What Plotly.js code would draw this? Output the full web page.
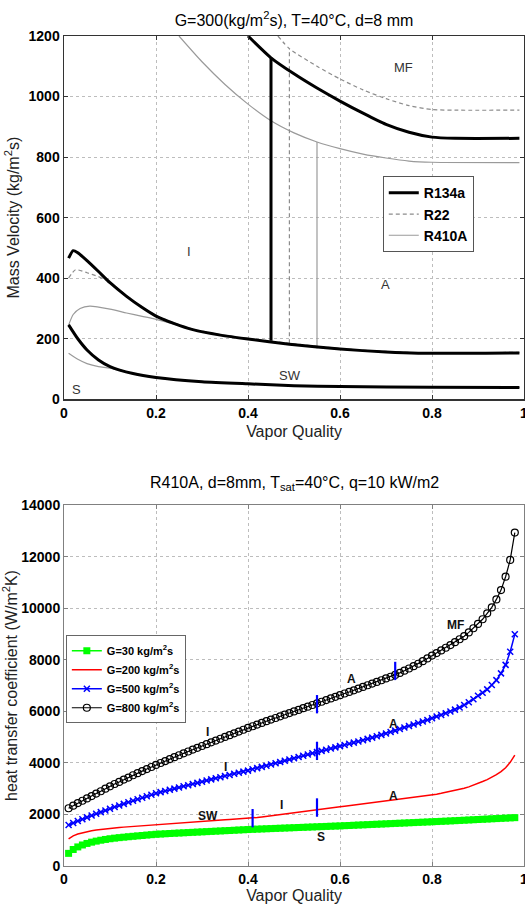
<!DOCTYPE html>
<html>
<head>
<meta charset="utf-8">
<script src="https://cdn.plot.ly/plotly-3.0.1.min.js"></script>
<style>html,body{margin:0;padding:0;background:#fff;}#chart{width:525px;height:904px;}</style>
</head>
<body>
<div id="chart"></div>
<script>
// ---------- Top chart: flow pattern map (G=300, T=40°C, d=8 mm) ----------
const r134a_MF_x = [0.40,0.45,0.50,0.55,0.60,0.65,0.70,0.75,0.80,0.85,0.99];
const r134a_MF_G = [1200,1128,1075,1028,985,945,908,882,866,862,862];
const r134a_vert_x = [0.45,0.45];
const r134a_vert_G = [193,1128];
const r134a_IA_x = [0.01,0.02,0.03,0.05,0.075,0.1,0.136,0.17,0.2,0.24,0.28,0.34,0.4,0.49,0.6,0.7,0.77,0.99];
const r134a_IA_G = [466,491,484,458,422,385,340,303,275,250,230,212,199,182,166,156,152,153];
const r134a_SW_x = [0.01,0.03,0.05,0.075,0.1,0.15,0.2,0.3,0.4,0.5,0.6,0.8,0.99];
const r134a_SW_G = [246,200,163,130,108,85,72,58,51,45,42,40,39];

const r22_MF_x = [0.465,0.49,0.55,0.60,0.65,0.70,0.75,0.80,0.85,0.99];
const r22_MF_G = [1200,1158,1100,1058,1022,993,970,957,955,955];
const r22_vert_x = [0.49,0.49];
const r22_vert_G = [185,1158];
const r22_IA_x = [0.01,0.025,0.05,0.075,0.1,0.136,0.17,0.2,0.24,0.28,0.34,0.4,0.49,0.6,0.7,0.77,0.99];
const r22_IA_G = [400,428,418,405,387,342,305,277,252,232,214,201,185,168,158,154,155];
const r22_SW_x = [0.01,0.03,0.05,0.075,0.1,0.15,0.2,0.3,0.4,0.5,0.6,0.8,0.99];
const r22_SW_G = [246,200,163,130,108,85,72,58,51,45,42,40,39];

const r410a_MF_x = [0.25,0.30,0.35,0.40,0.45,0.50,0.55,0.60,0.65,0.70,0.75,0.80,0.99];
const r410a_MF_G = [1200,1115,1040,975,920,880,850,828,810,797,787,783,782];
const r410a_vert_x = [0.55,0.55];
const r410a_vert_G = [168,850];
const r410a_IA_x = [0.01,0.02,0.035,0.056,0.1,0.136,0.17,0.2,0.24,0.28,0.34,0.4,0.49,0.6,0.7,0.77,0.99];
const r410a_IA_G = [245,280,300,308,298,285,274,264,248,230,212,199,182,166,156,152,153];
const r410a_SW_x = [0.01,0.03,0.05,0.075,0.1,0.15,0.2,0.3,0.4,0.5,0.6,0.8,0.99];
const r410a_SW_G = [152,132,118,108,103,84,71,58,51,45,42,40,39];

const refrigerants = ["R134a","R22","R410A"];
const top_xticks = [0,0.2,0.4,0.6,0.8,1];
const top_yticks = [0,200,400,600,800,1000,1200];

// ---------- Bottom chart: heat transfer coefficient, R410A ----------
const x_quality = [0.01,0.02,0.03,0.04,0.05,0.06,0.07,0.08,0.09,0.10,
  0.11,0.12,0.13,0.14,0.15,0.16,0.17,0.18,0.19,0.20,
  0.21,0.22,0.23,0.24,0.25,0.26,0.27,0.28,0.29,0.30,
  0.31,0.32,0.33,0.34,0.35,0.36,0.37,0.38,0.39,0.40,
  0.41,0.42,0.43,0.44,0.45,0.46,0.47,0.48,0.49,0.50,
  0.51,0.52,0.53,0.54,0.55,0.56,0.57,0.58,0.59,0.60,
  0.61,0.62,0.63,0.64,0.65,0.66,0.67,0.68,0.69,0.70,
  0.71,0.72,0.73,0.74,0.75,0.76,0.77,0.78,0.79,0.80,
  0.81,0.82,0.83,0.84,0.85,0.86,0.87,0.88,0.89,0.90,
  0.91,0.92,0.93,0.94,0.95,0.96,0.97,0.98];
const h_G30 = [490,640,740,815,875,925,965,1000,1030,1057,
  1080,1100,1118,1135,1152,1168,1184,1200,1215,1230,
  1240,1250,1260,1270,1279,1288,1297,1306,1315,1324,
  1333,1342,1351,1360,1369,1378,1387,1396,1405,1414,
  1422,1430,1437,1444,1451,1458,1465,1472,1479,1486,
  1493,1500,1507,1514,1521,1528,1535,1542,1549,1556,
  1564,1572,1580,1588,1596,1604,1612,1620,1628,1636,
  1644,1652,1660,1668,1676,1684,1692,1700,1708,1716,
  1724,1732,1740,1749,1758,1767,1776,1785,1794,1803,
  1812,1821,1830,1839,1848,1857,1866,1875];
const h_G200 = [1050,1170,1240,1290,1330,1365,1395,1420,1440,1460,
  1477,1493,1508,1522,1535,1548,1560,1572,1583,1595,
  1610,1625,1640,1655,1670,1685,1700,1715,1730,1745,
  1755,1765,1775,1785,1795,1805,1815,1825,1838,1850,
  1862,1885,1905,1930,1955,1980,2005,2030,2055,2080,
  2100,2120,2140,2158,2175,2200,2225,2250,2275,2300,
  2322,2344,2366,2388,2410,2432,2454,2476,2498,2520,
  2540,2560,2583,2606,2629,2652,2675,2700,2726,2753,
  2785,2818,2852,2888,2926,2968,3015,3068,3130,3207,
  3275,3350,3440,3540,3660,3810,4020,4300];
const h_G500 = [1590,1670,1745,1815,1885,1955,2025,2090,2155,2220,
  2285,2345,2410,2470,2530,2590,2650,2705,2765,2820,
  2865,2910,2955,3000,3045,3090,3135,3180,3225,3270,
  3315,3360,3400,3445,3490,3530,3575,3615,3660,3700,
  3750,3795,3845,3890,3940,3985,4035,4080,4130,4180,
  4225,4275,4325,4370,4420,4465,4510,4555,4600,4650,
  4695,4740,4785,4830,4880,4930,4980,5035,5085,5140,
  5195,5250,5310,5370,5430,5490,5545,5605,5665,5730,
  5795,5860,5925,5990,6065,6150,6245,6350,6470,6600,
  6720,6850,7020,7210,7470,7800,8310,8985];
const h_G800 = [2240,2340,2440,2530,2620,2710,2810,2900,3000,3090,
  3180,3260,3350,3430,3520,3600,3680,3760,3840,3920,
  3995,4070,4145,4220,4295,4370,4440,4515,4585,4655,
  4725,4795,4865,4935,5005,5075,5145,5215,5285,5355,
  5420,5485,5550,5615,5680,5740,5805,5870,5930,5995,
  6055,6120,6180,6245,6310,6370,6435,6500,6560,6625,
  6690,6750,6815,6880,6945,7010,7075,7140,7205,7275,
  7340,7410,7490,7575,7660,7750,7845,7945,8050,8160,
  8260,8360,8465,8570,8680,8795,8915,9060,9220,9390,
  9570,9800,10030,10340,10700,11220,11870,12930];
const series_names = ["G=30 kg/m<sup>2</sup>s","G=200 kg/m<sup>2</sup>s","G=500 kg/m<sup>2</sup>s","G=800 kg/m<sup>2</sup>s"];
const bot_yticks = [0,2000,4000,6000,8000,10000,12000,14000];
// flow-pattern transition marks (blue ticks)
const trans_x  = [0.55,0.72,0.55,0.41,0.55];
const trans_lo = [5920,7210,4110,1500,1910];
const trans_hi = [6630,7920,4820,2210,2625];

// ---------- build ----------
function joinSegs(segs){
  const xs=[], ys=[];
  segs.forEach((s,i)=>{ if(i>0){xs.push(null);ys.push(null);} xs.push(...s[0]); ys.push(...s[1]); });
  return [xs,ys];
}
const FONT = "Liberation Sans, Arial, Helvetica, sans-serif";
const bold = v => "<b>"+v+"</b>";
const traces = [];
const r134a = joinSegs([[r134a_MF_x,r134a_MF_G],[r134a_vert_x,r134a_vert_G],[r134a_IA_x,r134a_IA_G],[r134a_SW_x,r134a_SW_G]]);
const r22 = joinSegs([[r22_MF_x,r22_MF_G],[r22_vert_x,r22_vert_G],[r22_IA_x,r22_IA_G],[r22_SW_x,r22_SW_G]]);
const r410a = joinSegs([[r410a_MF_x,r410a_MF_G],[r410a_vert_x,r410a_vert_G],[r410a_IA_x,r410a_IA_G],[r410a_SW_x,r410a_SW_G]]);
const sp = {shape:'spline',smoothing:0.6};
traces.push({x:r410a[0],y:r410a[1],name:refrigerants[2],mode:'lines',line:Object.assign({color:'#9a9a9a',width:1.2},sp),xaxis:'x',yaxis:'y',legend:'legend',legendrank:3,connectgaps:false});
traces.push({x:r22[0],y:r22[1],name:refrigerants[1],mode:'lines',line:Object.assign({color:'#8c8c8c',width:1.2,dash:'4px,3px'},sp),xaxis:'x',yaxis:'y',legend:'legend',legendrank:2,connectgaps:false});
traces.push({x:r134a[0],y:r134a[1],name:refrigerants[0],mode:'lines',line:Object.assign({color:'#000',width:3},sp),xaxis:'x',yaxis:'y',legend:'legend',legendrank:1,connectgaps:false});

traces.push({x:x_quality,y:h_G30,name:series_names[0],mode:'lines+markers',line:{color:'#00ff00',width:1.5},marker:{symbol:'square',size:7,color:'#00ff00'},xaxis:'x2',yaxis:'y2',legend:'legend2'});
traces.push({x:x_quality,y:h_G200,name:series_names[1],mode:'lines',line:{color:'#ff0000',width:1.5},xaxis:'x2',yaxis:'y2',legend:'legend2'});
traces.push({x:x_quality,y:h_G500,name:series_names[2],mode:'lines+markers',line:{color:'#0000ff',width:1.5},marker:{symbol:'x-thin-open',size:6,color:'#0000ff',line:{color:'#0000ff',width:1.5}},xaxis:'x2',yaxis:'y2',legend:'legend2'});
traces.push({x:x_quality,y:h_G800,name:series_names[3],mode:'lines+markers',line:{color:'#000',width:1.2},marker:{symbol:'circle-open',size:7,color:'#000',line:{color:'#000',width:1.2}},xaxis:'x2',yaxis:'y2',legend:'legend2'});
const tx=[], ty=[];
trans_x.forEach((v,i)=>{ if(i>0){tx.push(null);ty.push(null);} tx.push(v,v); ty.push(trans_lo[i],trans_hi[i]); });
traces.push({x:tx,y:ty,mode:'lines',line:{color:'#0000ff',width:2.2},showlegend:false,xaxis:'x2',yaxis:'y2',connectgaps:false,hoverinfo:'skip'});

const axisCommon = {showline:true,mirror:'ticks',ticks:'inside',ticklen:4,showgrid:true,griddash:'dot',zeroline:false,
  tickmode:'array',ticklabeloverflow:'allow',
  tickfont:{family:FONT,size:14,color:'#000',weight:'bold'}};
const topLabels = [["MF",0.737,1095],["I",0.271,488],["A",0.698,378],["SW",0.491,78],["S",0.028,31]];
const botLabels = [["MF",0.852,9346],["A",0.625,7240],["A",0.716,5507],["I",0.313,5210],["I",0.352,3851],["SW",0.313,1940],["I",0.472,2366],["A",0.716,2715],["S",0.559,1113]];
const annotations = [];
topLabels.forEach(l=>annotations.push({text:l[0],x:l[1],y:l[2],xref:'x',yref:'y',showarrow:false,font:{family:FONT,size:13,color:'#333'}}));
botLabels.forEach(l=>annotations.push({text:l[0],x:l[1],y:l[2],xref:'x2',yref:'y2',showarrow:false,font:{family:FONT,size:12,color:'#111',weight:'bold'}}));
annotations.push({text:"R410A, d=8mm, T<sub>sat</sub>=40°C, q=10 kW/m2",xref:'paper',yref:'paper',x:0.5,y:0.4614,xanchor:'center',yanchor:'middle',showarrow:false,font:{family:FONT,size:16,color:'#000'}});

const layout = {
  width:525,height:904,
  margin:{l:64,r:1,t:36,b:38},
  paper_bgcolor:'#fff',plot_bgcolor:'#fff',
  font:{family:FONT,color:'#000'},
  title:{text:"G=300(kg/m<sup>2</sup>s), T=40°C, d=8 mm",x:0.5,xref:'paper',y:1-20/904,yref:'container',yanchor:'middle',font:{family:FONT,size:16,color:'#000'}},
  xaxis:Object.assign({},axisCommon,{domain:[0,1],anchor:'y',range:[0,1],tickvals:top_xticks,ticktext:top_xticks.map(v=>bold(String(v))),
    linecolor:'#333',linewidth:1.5,tickcolor:'#333',gridcolor:'#bdbdbd',
    title:{text:"Vapor Quality",font:{family:FONT,size:16,color:'#222'},standoff:6}}),
  yaxis:Object.assign({},axisCommon,{domain:[0.5623,1],anchor:'x',range:[0,1200],tickvals:top_yticks,ticktext:top_yticks.map(v=>bold(String(v))),
    linecolor:'#333',linewidth:1.5,tickcolor:'#333',gridcolor:'#bdbdbd',
    title:{text:"Mass Velocity (kg/m<sup>2</sup>s)",font:{family:FONT,size:16,color:'#222'},standoff:5}}),
  xaxis2:Object.assign({},axisCommon,{domain:[0,1],anchor:'y2',range:[0,1],tickvals:top_xticks,ticktext:top_xticks.map(v=>bold(String(v))),
    linecolor:'#808080',linewidth:1,tickcolor:'#808080',gridcolor:'#bdbdbd',
    title:{text:"Vapor Quality",font:{family:FONT,size:16,color:'#222'},standoff:4}}),
  yaxis2:Object.assign({},axisCommon,{domain:[0,0.4349],anchor:'x2',range:[0,14000],tickvals:bot_yticks,ticktext:bot_yticks.map(v=>bold(String(v))),
    linecolor:'#808080',linewidth:1,tickcolor:'#808080',gridcolor:'#bdbdbd',
    title:{text:"heat transfer coefficient (W/m<sup>2</sup>K)",font:{family:FONT,size:16,color:'#222'},standoff:2}}),
  legend:{x:0.693,y:0.831,xanchor:'left',yanchor:'top',bgcolor:'#fff',bordercolor:'#555',borderwidth:1,itemwidth:30,tracegroupgap:0,
    font:{family:FONT,size:14,color:'#000',weight:'bold'},traceorder:'normal'},
  legend2:{x:0.004,y:0.278,xanchor:'left',yanchor:'top',bgcolor:'#fff',bordercolor:'#666',borderwidth:1,itemwidth:30,tracegroupgap:0,
    font:{family:FONT,size:11,color:'#000',weight:'bold'},traceorder:'normal'},
  showlegend:true,
  annotations:annotations
};
Plotly.newPlot('chart',traces,layout,{displayModeBar:false,staticPlot:true});
</script>
</body>
</html>
